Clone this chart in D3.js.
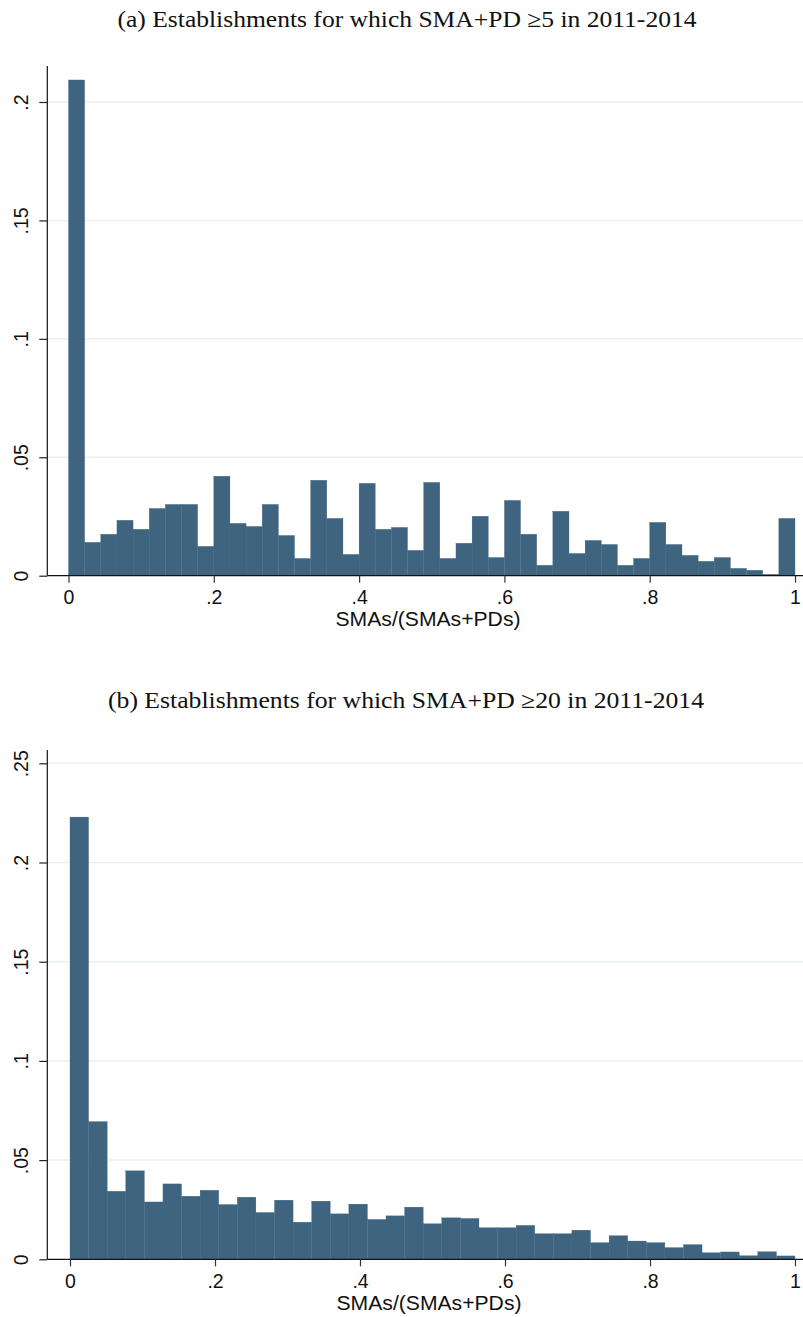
<!DOCTYPE html>
<html>
<head>
<meta charset="utf-8">
<script src="https://cdn.jsdelivr.net/npm/d3@7"></script>
<style>
  html, body { margin: 0; padding: 0; background: #fff; }
  svg { display: block; }
</style>
</head>
<body>
<svg id="chart" width="803" height="1317"></svg>
<script>
// ---- Data ----
const titleA = "(a) Establishments for which SMA+PD \u22655 in 2011-2014";
const titleB = "(b) Establishments for which SMA+PD \u226520 in 2011-2014";
const xLabel = "SMAs/(SMAs+PDs)";

const xTicks = [0, 0.2, 0.4, 0.6, 0.8, 1];
const xTickLabels = ["0", ".2", ".4", ".6", ".8", "1"];

const yTicksA = [0, 0.05, 0.1, 0.15, 0.2];
const yTickLabelsA = ["0", ".05", ".1", ".15", ".2"];
const yTicksB = [0, 0.05, 0.1, 0.15, 0.2, 0.25];
const yTickLabelsB = ["0", ".05", ".1", ".15", ".2", ".25"];

// Histogram densities (fractions), equal-width bins on [0,1]
const valuesA = [
  0.2093, 0.0141, 0.0175, 0.0234, 0.0196, 0.0284, 0.0301, 0.0301, 0.0124,
  0.0420, 0.0221, 0.0208, 0.0301, 0.0170, 0.0073, 0.0403, 0.0242, 0.0090,
  0.0390, 0.0196, 0.0204, 0.0107, 0.0394, 0.0073, 0.0137, 0.0251, 0.0077,
  0.0318, 0.0175, 0.0044, 0.0272, 0.0094, 0.0149, 0.0132, 0.0044, 0.0073,
  0.0225, 0.0132, 0.0086, 0.0061, 0.0077, 0.0031, 0.0023, 0.0006, 0.0242
];
const valuesB = [
  0.2229, 0.0694, 0.0343, 0.0446, 0.0289, 0.0380, 0.0318, 0.0348, 0.0276,
  0.0313, 0.0236, 0.0298, 0.0187, 0.0293, 0.0229, 0.0278, 0.0201, 0.0219,
  0.0263, 0.0179, 0.0209, 0.0206, 0.0159, 0.0159, 0.0171, 0.0129, 0.0129,
  0.0147, 0.0084, 0.0119, 0.0092, 0.0084, 0.0059, 0.0074, 0.0033, 0.0037,
  0.0018, 0.0038, 0.0017
];

// ---- Drawing ----
const svg = d3.select("#chart");
const barColor = "#3e6480";
const gridColor = "#e8f0f2";

function panel(cfg) {
  const g = svg.append("g");
  const x = d3.scaleLinear().domain([0, 1]).range([cfg.x0, cfg.x1]);
  const y = d3.scaleLinear().domain([0, cfg.yMax]).range([cfg.yBase, cfg.yTop]);
  const n = cfg.values.length;

  // title
  g.append("text")
    .attr("x", cfg.titleX).attr("y", cfg.titleY)
    .attr("text-anchor", "middle")
    .attr("font-family", "Liberation Serif, 'DejaVu Serif', serif")
    .attr("font-size", 23)
    .attr("textLength", cfg.titleLen)
    .attr("lengthAdjust", "spacingAndGlyphs")
    .attr("fill", "#111")
    .text(cfg.title);

  // gridlines
  g.selectAll("line.grid").data(cfg.yTicks.filter(d => d > 0)).enter()
    .append("line").attr("class", "grid")
    .attr("x1", cfg.axisX).attr("x2", 803)
    .attr("y1", d => y(d)).attr("y2", d => y(d))
    .attr("stroke", gridColor).attr("stroke-width", 1.5);

  // bars
  g.selectAll("rect.bar").data(cfg.values).enter()
    .append("rect").attr("class", "bar")
    .attr("x", (d, i) => x(i / n))
    .attr("width", (d, i) => x((i + 1) / n) - x(i / n))
    .attr("y", d => y(d))
    .attr("height", d => y(0) - y(d))
    .attr("fill", barColor)
    .attr("stroke", barColor).attr("stroke-width", 0.3);

  // axis lines
  g.append("line")
    .attr("x1", cfg.axisX).attr("x2", cfg.axisX)
    .attr("y1", cfg.axisTop).attr("y2", cfg.yBase)
    .attr("stroke", "#111").attr("stroke-width", 1.2);
  g.append("line")
    .attr("x1", cfg.axisX).attr("x2", 803)
    .attr("y1", cfg.yBase).attr("y2", cfg.yBase)
    .attr("stroke", "#111").attr("stroke-width", 1.2);

  // y axis ticks
  const ya = d3.axisLeft(y).tickValues(cfg.yTicks)
    .tickFormat((d, i) => cfg.yTickLabels[i]).tickSize(8).tickSizeOuter(0);
  const yg = g.append("g").attr("transform", `translate(${cfg.axisX},0)`).call(ya);
  yg.select(".domain").remove();
  yg.selectAll(".tick line").attr("stroke", "#222").attr("stroke-width", 1.2);
  yg.selectAll(".tick text")
    .attr("x", null).attr("dy", null)
    .attr("transform", "translate(-19,0) rotate(-90)")
    .attr("text-anchor", "middle")
    .attr("font-family", "Liberation Sans, Arial, sans-serif")
    .attr("font-size", 19.5).attr("fill", "#111");

  // x axis ticks
  const xa = d3.axisBottom(x).tickValues(xTicks)
    .tickFormat((d, i) => xTickLabels[i]).tickSize(7).tickSizeOuter(0);
  const xg = g.append("g").attr("transform", `translate(0,${cfg.yBase})`).call(xa);
  xg.select(".domain").remove();
  xg.selectAll(".tick line").attr("stroke", "#333").attr("stroke-width", 1.2);
  xg.selectAll(".tick text")
    .attr("y", 28.3).attr("dy", null)
    .attr("font-family", "Liberation Sans, Arial, sans-serif")
    .attr("font-size", 19.5).attr("fill", "#111");

  // x axis label
  g.append("text")
    .attr("x", cfg.labelX).attr("y", cfg.yBase + 50.5)
    .attr("text-anchor", "middle")
    .attr("font-family", "Liberation Sans, Arial, sans-serif")
    .attr("font-size", 20)
    .attr("textLength", 185)
    .attr("lengthAdjust", "spacingAndGlyphs")
    .attr("fill", "#111")
    .text(xLabel);
}

panel({
  title: titleA, titleX: 407, titleY: 27, titleLen: 579,
  values: valuesA, yTicks: yTicksA, yTickLabels: yTickLabelsA, yMax: 0.2,
  x0: 68.5, x1: 795, yBase: 575.7, yTop: 102, axisX: 47.3, axisTop: 66, labelX: 428
});
panel({
  title: titleB, titleX: 406, titleY: 708, titleLen: 596,
  values: valuesB, yTicks: yTicksB, yTickLabels: yTickLabelsB, yMax: 0.25,
  x0: 70, x1: 795, yBase: 1259.3, yTop: 763.3, axisX: 47.3, axisTop: 750, labelX: 429
});
</script>
</body>
</html>
